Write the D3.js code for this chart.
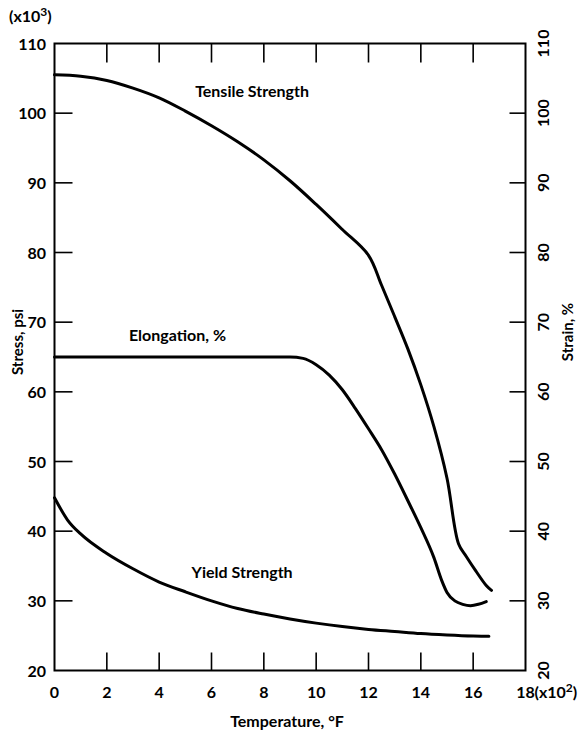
<!DOCTYPE html>
<html>
<head>
<meta charset="utf-8">
<script src="https://cdn.jsdelivr.net/npm/d3@7"></script>
<style>
  body { margin: 0; background: #fff; }
  svg { font-family: Lato, "DejaVu Sans", sans-serif; font-weight: bold; }
  .curve { fill: none; stroke: #000; stroke-width: 3; stroke-linecap: round; }
  .frame line { stroke: #000; }
</style>
</head>
<body>
<svg id="chart" width="584" height="736"></svg>
<script>
// temperature in hundreds of deg F
var tensileT = [0, 1, 2, 3, 4, 5, 6, 7, 8, 9, 10, 11, 12, 12.5, 13, 13.5, 14, 14.5, 15, 15.44, 15.73, 16.1, 16.5, 16.7];
var tensileV = [105.5, 105.3, 104.7, 103.6, 102.2, 100.3, 98.2, 95.9, 93.3, 90.3, 86.9, 83.3, 79.6, 75.3, 70.8, 66.2, 61.0, 55.0, 47.6, 38.2, 36.4, 34.3, 32.2, 31.5];

var elongT = [0, 2, 4, 6, 8, 9, 9.5, 10, 10.5, 11, 11.5, 12, 12.5, 13, 13.5, 14, 14.5, 14.8, 15, 15.3, 15.6, 15.9, 16.2, 16.5];
var elongV = [65, 65, 65, 65, 65, 65, 64.8, 63.9, 62.4, 60.3, 57.6, 54.7, 51.7, 48.2, 44.4, 40.5, 36.2, 32.9, 31.2, 30.0, 29.5, 29.3, 29.5, 29.9];

var yieldT = [0, 0.5, 1, 2, 3, 4, 5, 6, 7, 8, 9, 10, 11, 12, 13, 14, 15, 16, 16.6];
var yieldV = [44.8, 41.6, 39.6, 36.8, 34.6, 32.7, 31.3, 30.0, 28.9, 28.1, 27.4, 26.8, 26.3, 25.9, 25.6, 25.3, 25.1, 24.95, 24.9];

var xTicks = [0, 2, 4, 6, 8, 10, 12, 14, 16, 18];
var yTicks = [20, 30, 40, 50, 60, 70, 80, 90, 100, 110];

var curveLabels = [
  {text: 'Tensile Strength', t: 7.55, v: 102.3},
  {text: 'Elongation, %', t: 4.7, v: 67.3},
  {text: 'Yield Strength', t: 7.17, v: 33.3}
];

var svg = d3.select('#chart');
var plotLeft = 54.5, plotRight = 525.5, plotTop = 43.5, plotBottom = 670.5;

var x = d3.scaleLinear().domain([0, 18]).range([plotLeft, plotRight]);
var y = d3.scaleLinear().domain([20, 110]).range([plotBottom, plotTop]);

//closed frame round the plot
var frame = svg.append('g').attr('class', 'frame');
frame.append('rect')
  .attr('x', plotLeft).attr('y', plotTop)
  .attr('width', plotRight - plotLeft).attr('height', plotBottom - plotTop)
  .attr('fill', 'none').attr('stroke', '#000').attr('stroke-width', 2);

//inward ticks on the temperature axis (bottom and top)
var xInner = xTicks.slice(1, -1);
frame.selectAll('.xb').data(xInner).enter().append('line')
  .attr('x1', d => x(d)).attr('x2', d => x(d))
  .attr('y1', plotBottom).attr('y2', plotBottom - 18)
  .attr('stroke-width', 1.6);
frame.selectAll('.xt').data(xInner).enter().append('line')
  .attr('x1', d => x(d)).attr('x2', d => x(d))
  .attr('y1', plotTop).attr('y2', plotTop + 19)
  .attr('stroke-width', 1.6);

//inward ticks on the stress and strain axes
var yInner = yTicks.slice(1, -1);
frame.selectAll('.yl').data(yInner).enter().append('line')
  .attr('x1', plotLeft).attr('x2', plotLeft + 18)
  .attr('y1', d => y(d)).attr('y2', d => y(d))
  .attr('stroke-width', 1.6);
frame.selectAll('.yr').data(yInner).enter().append('line')
  .attr('x1', plotRight).attr('x2', plotRight - 16)
  .attr('y1', d => y(d)).attr('y2', d => y(d))
  .attr('stroke-width', 1.6);

//tick labels
svg.selectAll('.xl').data(xTicks).enter().append('text')
  .attr('x', d => x(d)).attr('y', 698)
  .attr('text-anchor', 'middle').attr('font-size', 16)
  .text(d => d);
svg.append('text').attr('x', x(18) + 9).attr('y', 698)
  .attr('font-size', 16)
  .html('(x10<tspan dy="-6" font-size="12">2</tspan><tspan dy="6">)</tspan>');

svg.selectAll('.ll').data(yTicks).enter().append('text')
  .attr('x', 46).attr('y', d => y(d) + 6)
  .attr('text-anchor', 'end').attr('font-size', 16)
  .text(d => d);
svg.append('text').attr('x', 9).attr('y', 22)
  .attr('font-size', 16)
  .html('(x10<tspan dy="-6" font-size="12">3</tspan><tspan dy="6">)</tspan>');

//right labels read bottom to top
svg.selectAll('.rl').data(yTicks).enter().append('text')
  .attr('transform', d => 'translate(549,' + y(d) + ') rotate(-90)')
  .attr('text-anchor', 'middle').attr('font-size', 16)
  .text(d => d);

//axis titles
svg.append('text').attr('x', 287).attr('y', 727)
  .attr('text-anchor', 'middle').attr('font-size', 16)
  .text('Temperature, °F');
svg.append('text').attr('transform', 'translate(23,342) rotate(-90)')
  .attr('text-anchor', 'middle').attr('font-size', 15)
  .text('Stress, psi');
svg.append('text').attr('transform', 'translate(573,332) rotate(-90)')
  .attr('text-anchor', 'middle').attr('font-size', 15)
  .text('Strain, %');

//curves: tensile is smoothed through its points, the flatter ones kept monotone
var smooth = d3.line()
  .x(d => x(d[0]))
  .y(d => y(d[1]))
  .curve(d3.curveCatmullRom.alpha(0.5));
var mono = d3.line()
  .x(d => x(d[0]))
  .y(d => y(d[1]))
  .curve(d3.curveMonotoneX);

svg.append('path').attr('class', 'curve')
  .attr('d', smooth(d3.zip(tensileT, tensileV)));
svg.append('path').attr('class', 'curve')
  .attr('d', mono(d3.zip(elongT, elongV)));
svg.append('path').attr('class', 'curve')
  .attr('d', mono(d3.zip(yieldT, yieldV)));

svg.selectAll('.cl').data(curveLabels).enter().append('text')
  .attr('x', d => x(d.t)).attr('y', d => y(d.v))
  .attr('text-anchor', 'middle').attr('font-size', 16)
  .text(d => d.text);
</script>
</body>
</html>
